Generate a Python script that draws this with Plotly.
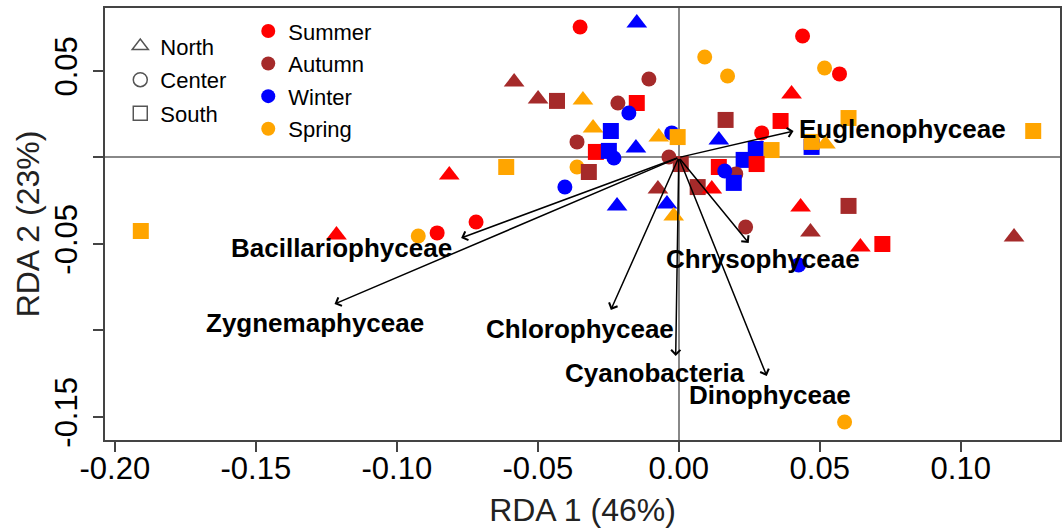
import plotly.graph_objects as go

# ---- sample scores (RDA 1, RDA 2), region and season ----
rda1 = [-0.0350, -0.0149, 0.0439, 0.0092, 0.0173, 0.0517, 0.0570, 0.0400, -0.0584, -0.0106,
        -0.0499, -0.0432, -0.0340, -0.0216, -0.0149, -0.0177, 0.0166, 0.0361, 0.0602, 0.1257,
        -0.0304, -0.0241, -0.0361, -0.0294, -0.0248, -0.0230, -0.0152, -0.0071, -0.0025, -0.0004,
        -0.0035, -0.0361, -0.0319, -0.0404, -0.0074, -0.0219, -0.0042, -0.0018, 0.0067, 0.0117,
        0.0007, 0.0142, 0.0294, 0.0273, 0.0329, 0.0230, 0.0276, 0.0142, 0.0202, 0.0163,
        0.0195, 0.0471, 0.0471, 0.0520, 0.0432, 0.0602, 0.0237, 0.0467, 0.0644, 0.0722,
        0.1189, 0.0425, 0.0588, -0.1908, -0.1214, -0.0924, -0.0857, -0.0719, -0.0814, -0.0612]
rda2 = [0.0754, 0.0777, 0.0702, 0.0581, 0.0471, 0.0517, 0.0483, 0.0367, 0.0436, 0.0454,
        0.0338, 0.0327, 0.0332, 0.0315, 0.0315, 0.0257, 0.0217, 0.0211, 0.0228, 0.0153,
        0.0171, 0.0153, 0.0090, 0.0032, 0.0038, -0.0003, 0.0055, 0.0118, 0.0142, 0.0118,
        0.0003, -0.0055, -0.0084, -0.0171, -0.0182, -0.0280, -0.0269, -0.0338, -0.0171, -0.0182,
        -0.0038, 0.0101, 0.0142, 0.0049, 0.0043, -0.0014, -0.0038, -0.0055, -0.0095, -0.0078,
        -0.0147, 0.0061, 0.0090, 0.0078, -0.0286, -0.0280, -0.0402, -0.0431, -0.0517, -0.0500,
        -0.0460, -0.0621, -0.1529, -0.0425, -0.0448, -0.0454, -0.0436, -0.0373, -0.0101, -0.0055]
region = ["Center", "North", "Center", "Center", "Center", "Center", "Center", "North", "North", "Center",
          "North", "South", "North", "Center", "South", "Center", "South", "South", "South", "South",
          "North", "South", "Center", "South", "South", "Center", "North", "North", "Center", "South",
          "Center", "Center", "South", "Center", "North", "North", "North", "North", "South", "North",
          "South", "North", "Center", "South", "South", "South", "South", "South", "Center", "Center",
          "South", "South", "South", "North", "North", "South", "Center", "North", "North", "South",
          "North", "Center", "Center", "South", "North", "Center", "Center", "Center", "North", "South"]
season = ["Summer", "Winter", "Summer", "Spring", "Spring", "Spring", "Summer", "Summer", "Autumn", "Autumn",
          "Autumn", "Autumn", "Spring", "Autumn", "Summer", "Winter", "Autumn", "Summer", "Spring", "Spring",
          "Spring", "Winter", "Autumn", "Summer", "Winter", "Winter", "Winter", "Spring", "Winter", "Spring",
          "Autumn", "Spring", "Autumn", "Winter", "Autumn", "Winter", "Winter", "Spring", "Autumn", "Summer",
          "Autumn", "Winter", "Summer", "Winter", "Spring", "Winter", "Summer", "Summer", "Autumn", "Winter",
          "Winter", "Winter", "Spring", "Spring", "Summer", "Autumn", "Autumn", "Autumn", "Summer", "Summer",
          "Autumn", "Winter", "Spring", "Spring", "Summer", "Spring", "Summer", "Summer", "Summer", "Spring"]

# ---- biplot arrows (phytoplankton groups) ----
groups = ["Euglenophyceae", "Bacillariophyceae", "Zygnemaphyceae", "Chlorophyceae",
          "Cyanobacteria", "Dinophyceae", "Chrysophyceae"]
arrow_x = [0.0407, -0.0772, -0.1221, -0.0241, -0.0011, 0.0312, 0.0248]
arrow_y = [0.0153, -0.0465, -0.0847, -0.0881, -0.1147, -0.1263, -0.0494]
label_x = [0.0793, -0.1196, -0.1292, -0.0350, -0.0085, 0.0322, 0.0297]
label_y = [0.0165, -0.0523, -0.0957, -0.0991, -0.1246, -0.1373, -0.0587]

regions = ["North", "Center", "South"]
seasons = ["Summer", "Autumn", "Winter", "Spring"]
x_ticks = [-0.20, -0.15, -0.10, -0.05, 0.00, 0.05, 0.10]
y_ticks = [0.05, 0.00, -0.05, -0.10, -0.15]
y_ticktext = ["0.05", "", "-0.05", "", "-0.15"]

season_color = {"Summer": "#FF0000", "Autumn": "#A52A2A", "Winter": "#0000FF", "Spring": "#FFA500"}
region_symbol = {"North": "triangle-up", "Center": "circle", "South": "square"}
region_size = {"North": 18, "Center": 15, "South": 16}

FONT = "Liberation Sans, Arial, sans-serif"

fig = go.Figure()

fig.add_trace(go.Scatter(
    x=rda1, y=rda2, mode="markers", showlegend=False, hoverinfo="skip",
    marker=dict(symbol=[region_symbol[r] for r in region],
                size=[region_size[r] for r in region],
                color=[season_color[s] for s in season],
                opacity=1, line=dict(width=0))))

# legend 1: regions (open symbols)
for r in regions:
    fig.add_trace(go.Scatter(
        x=[None], y=[None], mode="markers", name=r, legend="legend",
        legendgroup="r" + r,
        marker=dict(symbol=region_symbol[r] + "-open", size=14, color="#555555",
                    line=dict(width=1.5, color="#555555"))))
# legend 2: seasons
for s in seasons:
    fig.add_trace(go.Scatter(
        x=[None], y=[None], mode="markers", name=s, legend="legend2",
        legendgroup="s" + s,
        marker=dict(symbol="circle", size=14, color=season_color[s], opacity=1)))

for gx, gy in zip(arrow_x, arrow_y):
    fig.add_annotation(x=gx, y=gy, ax=0, ay=0, xref="x", yref="y", axref="x", ayref="y",
                       text="", showarrow=True, arrowhead=4, arrowsize=1.2,
                       arrowwidth=1.5, arrowcolor="black")
for name, lx, ly in zip(groups, label_x, label_y):
    fig.add_annotation(x=lx, y=ly, xref="x", yref="y", text="<b>" + name + "</b>",
                       showarrow=False, font=dict(family=FONT, size=26, color="black"))

axis_common = dict(showline=True, mirror=True, linecolor="#444444", linewidth=1.5,
                   ticks="outside", ticklen=10, tickwidth=1.5, tickcolor="#444444",
                   showgrid=False, zeroline=True, zerolinecolor="#888888", zerolinewidth=1.5,
                   tickfont=dict(family=FONT, size=31, color="black"))

fig.update_layout(
    width=1064, height=528,
    margin=dict(l=105, r=2, t=8, b=88),
    plot_bgcolor="white", paper_bgcolor="white",
    font=dict(family=FONT, color="black"),
    xaxis=dict(range=[-0.2035, 0.1352], tickvals=x_ticks,
               ticktext=["%.2f" % v for v in x_ticks],
               ticklabelstandoff=-10,
               title=dict(text="RDA 1 (46%)", font=dict(family=FONT, size=32, color="#222222"),
                          standoff=17),
               **axis_common),
    yaxis=dict(range=[-0.1633, 0.0864], tickvals=y_ticks, ticktext=y_ticktext,
               tickangle=-90, ticklabelstandoff=4,
               title=dict(text="RDA 2 (23%)", font=dict(family=FONT, size=32, color="#222222"),
                          standoff=0),
               **axis_common),
    legend=dict(x=0.016, y=0.96, xanchor="left", yanchor="top", bgcolor="rgba(0,0,0,0)",
                font=dict(family=FONT, size=22, color="black"), tracegroupgap=2,
                itemsizing="trace"),
    legend2=dict(x=0.150, y=0.995, xanchor="left", yanchor="top", bgcolor="rgba(0,0,0,0)",
                 font=dict(family=FONT, size=22, color="black"), tracegroupgap=1,
                 itemsizing="trace"),
)

fig.write_html("out.html")
